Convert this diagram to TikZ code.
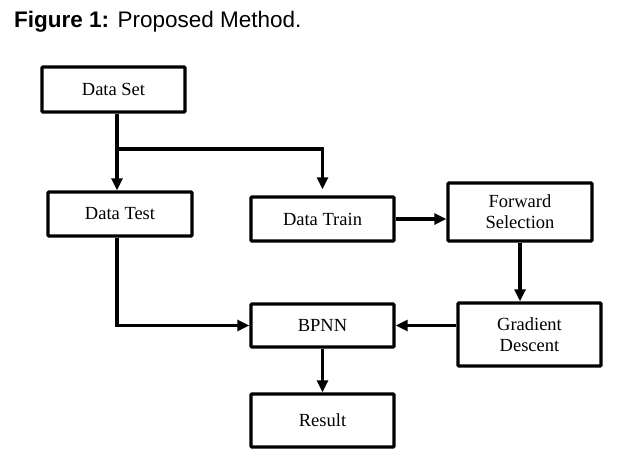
\documentclass[tikz,border=0pt]{standalone}
\usepackage{fontspec}
\setmainfont{Liberation Serif}
\newfontfamily\arialfont{Liberation Sans}
\usepackage{tikz}
\usetikzlibrary{arrows.meta}

\begin{document}
\begin{tikzpicture}[x=1pt,y=-1pt,
		box/.style={draw, line width=3.4pt, rounded corners=1pt, align=center, inner sep=0pt,
			font=\fontsize{18.5}{21}\selectfont},
		line/.style={line width=3.2pt},
		arrow/.style={line, -{Triangle[length=12pt,width=11pt]}}]
		\useasboundingbox (0,0) rectangle (623,465);

		\node[anchor=base west, inner sep=0pt, font=\arialfont\fontsize{22.5}{26}\selectfont]
			(title) at (14,27.5) {\textbf{Figure 1:} Proposed Method.};

		\node[box, minimum width=143pt, minimum height=45pt] (dataset) at (113.5,89.5) {Data Set};
		\node[box, minimum width=144pt, minimum height=44pt] (datatest) at (120,214) {Data Test};
		\node[box, minimum width=143pt, minimum height=44pt] (datatrain) at (322.5,219) {Data Train};
		\node[box, minimum width=144pt, minimum height=58pt] (forward) at (520,212) {Forward\\Selection};
		\node[box, minimum width=143pt, minimum height=43pt] (bpnn) at (322.5,325.5) {BPNN};
		\node[box, minimum width=143pt, minimum height=63pt] (gradient) at (529.5,334.5) {Gradient\\Descent};
		\node[box, minimum width=143pt, minimum height=53pt] (result) at (322.5,420.5) {Result};

		\coordinate (split) at (117,149);

		\draw[line] (split |- dataset.south) -- (split);
		\draw[arrow] (split) -- (split |- datatest.north);
		\draw[arrow, shorten >=6pt] (split) -| (datatrain.north);
		\draw[arrow] (split |- datatest.south) |- (bpnn.west);
		\draw[arrow] (datatrain.east) -- (forward.west |- datatrain.east);
		\draw[arrow] (forward.south) -- (forward.south |- gradient.north);
		\draw[arrow] (gradient.west |- bpnn.east) -- (bpnn.east);
		\draw[arrow] (bpnn.south) -- (result.north);
	\end{tikzpicture}
\end{document}
